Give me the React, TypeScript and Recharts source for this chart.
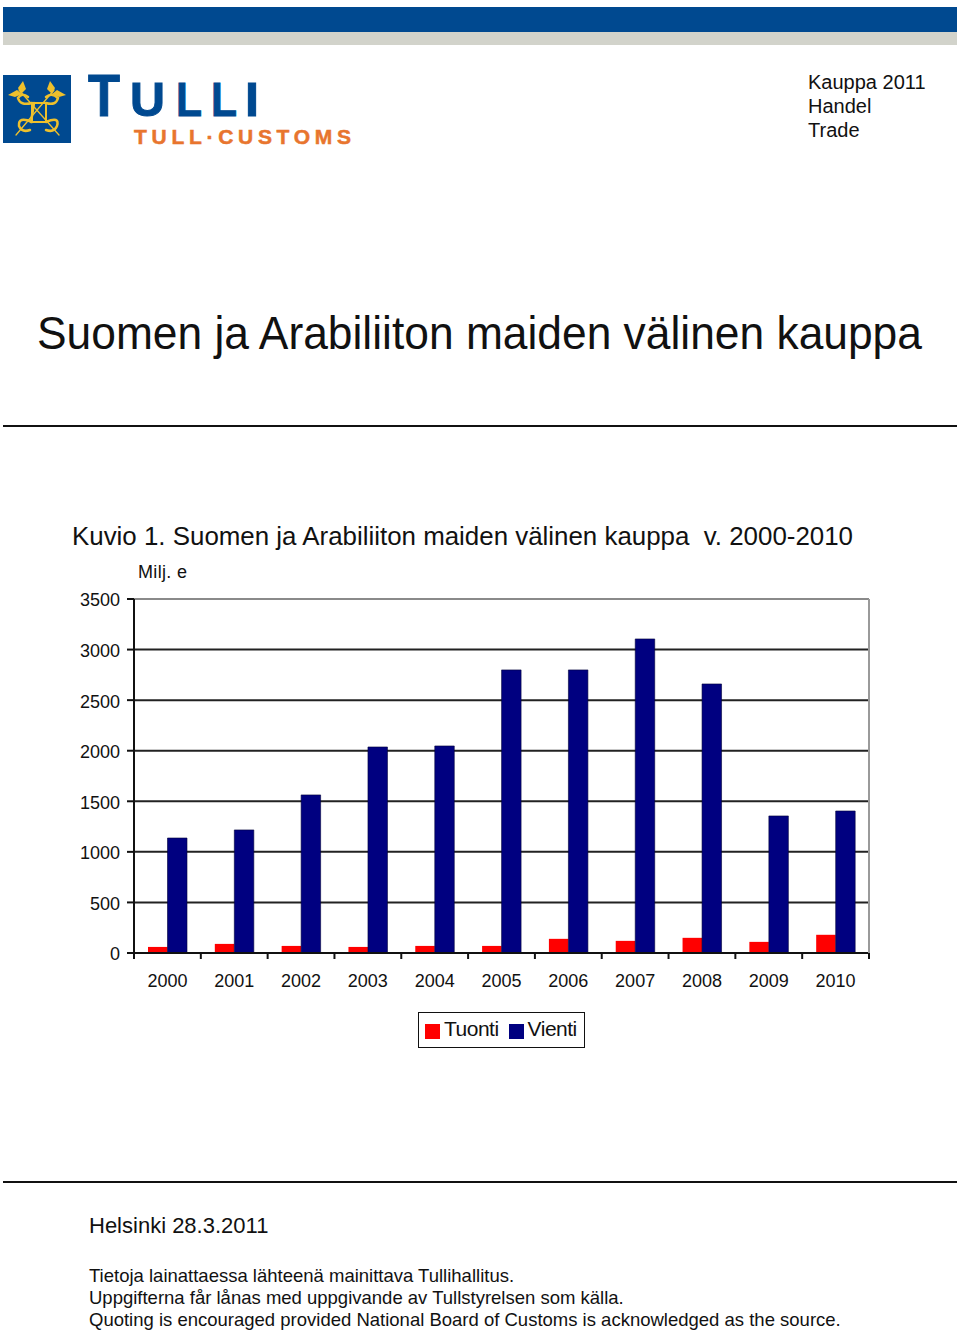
import { BarChart, Bar, XAxis, YAxis, CartesianGrid, Legend, ReferenceLine } from "recharts";

const years = ["2000", "2001", "2002", "2003", "2004", "2005", "2006", "2007", "2008", "2009", "2010"];
const tuonti = [60, 90, 70, 60, 70, 70, 140, 120, 150, 110, 180];
const vienti = [1137, 1217, 1563, 2037, 2047, 2799, 2799, 3105, 2660, 1355, 1404];
const yTicks = [0, 500, 1000, 1500, 2000, 2500, 3000, 3500];
const innerGrid = [500, 1000, 1500, 2000, 2500, 3000];
const yearEdges = [0, 1, 2, 3, 4, 5, 6, 7, 8, 9, 10, 11];

const chartData = years.map((year, i) => ({ year, edge: yearEdges[i], Tuonti: tuonti[i], Vienti: vienti[i] }));

const FONT = '"Liberation Sans", Arial, sans-serif';
const BLUE = "#004990";
const GOLD = "#eec02c";
const ORANGE = "#e8752e";

function Emblem() {
  return (
    <g>
      <rect x={3} y={75} width={68} height={68} fill={BLUE} />
      <g stroke={GOLD} fill="none" strokeLinecap="round">
        <line x1={19} y1={90} x2={59} y2={135} strokeWidth={1.3} />
        <line x1={54} y1={90} x2={16} y2={135} strokeWidth={1.3} />
        <path d="M32 103 L46 103 L46 122 L32 122 Z" strokeWidth={2} />
        <line x1={34} y1={103} x2={31} y2={122} strokeWidth={2.5} />
        <path d="M32 103 Q20 106 18 98 Q22 92 28 97" strokeWidth={2.5} />
        <path d="M46 103 Q56 106 58 98 Q52 92 46 97" strokeWidth={2.5} />
        <path d="M32 122 Q18 116 19 126 Q22 133 30 130" strokeWidth={2.5} />
        <path d="M46 122 Q60 116 57 126 Q54 133 46 130" strokeWidth={2.5} />
      </g>
      <g fill={GOLD}>
        <path d="M23 81 L26 89 L21 94 L18 88 Z" />
        <path d="M50 81 L47 89 L52 94 L55 88 Z" />
        <path d="M8 95 L17 90 L22 94 L15 97 Z" />
        <path d="M66 95 L57 90 L52 94 L59 97 Z" />
      </g>
    </g>
  );
}

function PageText() {
  return (
    <svg width={960} height={1333} style={{ position: "absolute", left: 0, top: 0 }} fontFamily={FONT}>
      <rect x={3} y={7} width={954} height={25} fill={BLUE} />
      <rect x={3} y={32} width={954} height={13} fill="#d2d3cb" />
      <Emblem />
      <g fontWeight={700} fill={BLUE} stroke={BLUE} strokeWidth={1}>
        <text x={88} y={116} fontSize={59} textLength={32} lengthAdjust="spacingAndGlyphs">T</text>
        <text x={130} y={116} fontSize={49} textLength={35} lengthAdjust="spacingAndGlyphs">U</text>
        <text x={176} y={116} fontSize={49} textLength={26} lengthAdjust="spacingAndGlyphs">L</text>
        <text x={211} y={116} fontSize={49} textLength={26} lengthAdjust="spacingAndGlyphs">L</text>
        <text x={245} y={116} fontSize={49} textLength={14} lengthAdjust="spacingAndGlyphs">I</text>
      </g>
      <text x={134} y={144} fontSize={21} fontWeight={700} fill={ORANGE} stroke={ORANGE} strokeWidth={0.5} textLength={217} lengthAdjust="spacing">TULL·CUSTOMS</text>
      <text x={808} y={89} fontSize={20} fill="#111">Kauppa 2011</text>
      <text x={808} y={113} fontSize={20} fill="#111">Handel</text>
      <text x={808} y={137} fontSize={20} fill="#111">Trade</text>
      <text transform="translate(37 349) scale(0.9435 1)" fontSize={47} fill="#111">Suomen ja Arabiliiton maiden välinen kauppa</text>
      <rect x={3} y={425} width={954} height={2} fill="#111" />
      <text x={72} y={545} fontSize={25.5} fill="#111" style={{ whiteSpace: "pre" }} textLength={781} lengthAdjust="spacingAndGlyphs">Kuvio 1. Suomen ja Arabiliiton maiden välinen kauppa  v. 2000-2010</text>
      <text x={138} y={578} fontSize={18} fill="#111" textLength={49}>Milj. e</text>
      <rect x={3} y={1181} width={954} height={2} fill="#111" />
      <text x={89} y={1233} fontSize={22} fill="#111">Helsinki 28.3.2011</text>
      <text x={89} y={1282} fontSize={18.5} fill="#111">Tietoja lainattaessa lähteenä mainittava Tullihallitus.</text>
      <text x={89} y={1304} fontSize={18.5} fill="#111">Uppgifterna får lånas med uppgivande av Tullstyrelsen som källa.</text>
      <text x={89} y={1326} fontSize={18.5} fill="#111">Quoting is encouraged provided National Board of Customs is acknowledged as the source.</text>
    </svg>
  );
}

export default function App() {
  return (
    <div style={{ position: "absolute", left: 0, top: 0, width: 960, height: 1333, overflow: "hidden", background: "#fff" }}>
      <PageText />
      <div style={{ position: "absolute", left: 0, top: 560 }}>
        <BarChart
          width={960}
          height={500}
          data={chartData}
          barGap={0}
          barSize={19.5}
          margin={{ top: 39, right: 90, left: 74, bottom: 66 }}
          style={{ fontFamily: FONT }}
        >
          <CartesianGrid vertical={false} horizontalValues={innerGrid} stroke="#222" strokeWidth={2} />
          <ReferenceLine y={3500} stroke="#8a8a8a" strokeWidth={2} />
          {/* tick marks sit between the years, so they get their own axis */}
          <XAxis
            type="number"
            dataKey="edge"
            domain={[0, 11]}
            ticks={yearEdges}
            height={1}
            interval={0}
            tickFormatter={() => ""}
            tickSize={6}
            stroke="#111"
            strokeWidth={2}
          />
          <XAxis
            xAxisId="years"
            dataKey="year"
            height={40}
            axisLine={false}
            tickLine={false}
            tickSize={6}
            tickMargin={14}
            interval={0}
            tick={{ fontSize: 18, fill: "#111" }}
          />
          <YAxis
            width={60}
            domain={[0, 3500]}
            ticks={yTicks}
            tickSize={7}
            tickMargin={7}
            interval={0}
            stroke="#111"
            strokeWidth={2}
            tick={{ fontSize: 18, fill: "#111", strokeWidth: 0, dy: 1 }}
          />
          <YAxis yAxisId="frame" orientation="right" width={1} domain={[0, 3500]} tick={false} tickLine={false} stroke="#9a9a9a" strokeWidth={2} />
          <Legend
            layout="horizontal"
            verticalAlign="middle"
            align="center"
            iconType="square"
            iconSize={15}
            formatter={(value) => <span style={{ color: "#111", fontSize: 21, letterSpacing: -0.5 }}>{value}</span>}
            wrapperStyle={{
              left: 418,
              top: 452,
              width: 167,
              height: 36,
              boxSizing: "border-box",
              border: "1.5px solid #111",
              paddingLeft: 6,
              whiteSpace: "nowrap",
              lineHeight: "31px",
              fontFamily: FONT,
            }}
          />
          <Bar xAxisId="years" dataKey="Tuonti" fill="#ff0000" isAnimationActive={false} />
          <Bar xAxisId="years" dataKey="Vienti" fill="#000080" stroke="#00003a" strokeWidth={0.6} isAnimationActive={false} />
        </BarChart>
      </div>
    </div>
  );
}
